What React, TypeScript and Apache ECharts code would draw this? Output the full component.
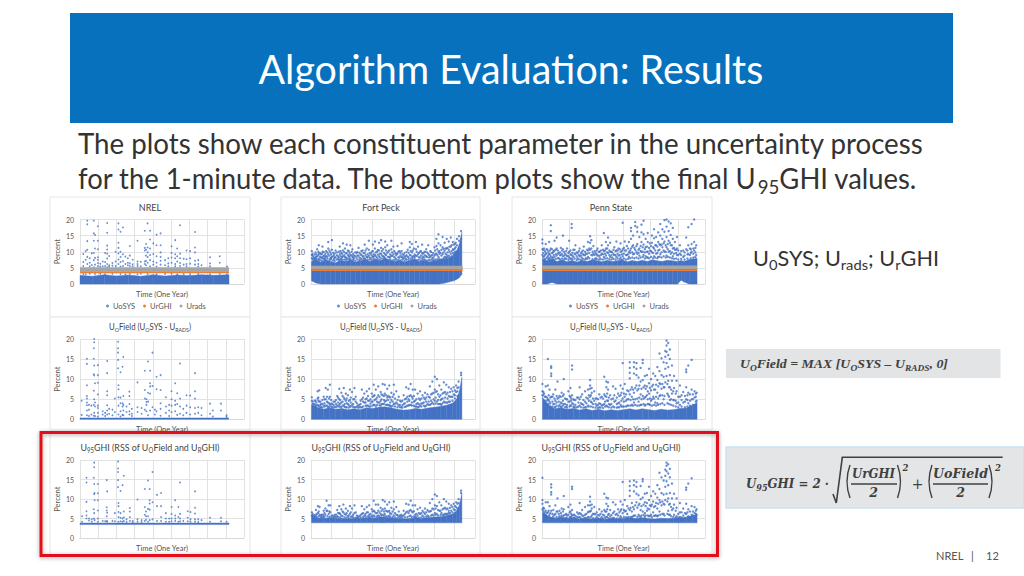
import React, { useEffect, useRef } from "react";
import * as echarts from "echarts";

// ---------- text content ----------
const slideTitle = "Algorithm Evaluation: Results";
const bodyLine1 = "The plots show each constituent parameter in the uncertainty process";
const siteNames = ["NREL", "Fort Peck", "Penn State"];
const legendNames = ["UoSYS", "UrGHI", "Urads"];
const yMax = 20;
const yStep = 5;
const xIntervals = [45, 50, 65];
const xMaxes = [405, 400, 390];

// ---------- reference levels (percent) per site ----------
const urGhiLevel = [3.6, 4.3, 4.3];
const uradsLevel = [4.5, 5.1, 5.2];
const dataEnd = [368, 370, 371];

// ---------- dense-band outlines: [day, low, high] ----------
const nrelSysBand = [[0,0,2.7],[30,0,2.4],[60,0,2.9],[90,0,2.5],[120,0,2.8],[150,0,2.4],[180,0,2.9],[210,0,2.5],[240,0,2.8],[270,0,2.6],[300,0,2.9],[330,0,2.7],[368,0,2.9]];
const fpSysBand = [[1,1,7],[12,0.3,7.6],[24,0,6.8],[36,0,7.5],[48,0,7],[60,0,6.6],[72,0,7.4],[84,0,7],[96,0,7.5],[108,0,6.8],[120,0,7.2],[132,0,7.6],[144,0,7],[156,0,7.6],[168,0,7.2],[180,0,7.8],[192,0,7.3],[204,0,7],[216,0,7.4],[228,0,6.8],[240,0,7.3],[252,0,7.6],[264,0,7],[276,0,7.4],[288,0,6.9],[300,0,7.2],[312,0,7.5],[324,0.2,7.8],[336,0.6,8],[348,1,9],[356,1.5,10.5],[362,2,12.5],[368,3,16]];
const psSysBand = [[1,0,8],[12,0,7.2],[24,0.5,7.8],[36,0,7],[48,0,7.5],[60,0,6.9],[72,0,7.3],[84,0,6.8],[96,0,7.4],[108,0,7],[120,0,7.5],[132,0,7.2],[144,0,6.9],[156,0,7.4],[168,0,7],[180,0,7.2],[192,0,7.5],[204,0,6.9],[216,0,7.3],[228,0,7],[240,0,7.4],[252,0,7],[264,0,7.5],[276,0,7.2],[288,0,7],[300,0,7.4],[312,0,7.2],[324,0,7],[333,1.2,7.3],[340,0.6,7],[352,0,7.6],[371,0,8]];
const nrelUoBand = [[0,0,0.35],[367,0,0.35]];
const fpUoBand = [[1,0,3.6],[15,0,3],[30,0,2.5],[45,0,2.9],[60,0,2.5],[75,0,2.7],[90,0,2.4],[105,0,2.6],[120,0,2.4],[135,0,2.9],[150,0,2.7],[165,0,3],[180,0,3.1],[195,0,2.9],[210,0,2.5],[225,0,2.3],[240,0,2.4],[255,0,2.7],[270,0,2.5],[285,0,2.8],[300,0,3],[315,0,3.2],[330,0,3.5],[345,0,4],[355,0,5],[362,0,7],[368,0,10.5]];
const psUoBand = [[1,0,5.5],[15,0,3.6],[30,0,2.6],[45,0,2.9],[60,0,2.5],[75,0,2.7],[90,0,2.3],[105,0,2.6],[120,0,2.2],[135,0,2.5],[150,0,2.1],[165,0,2.4],[180,0,2.2],[195,0,2.4],[210,0,2.6],[225,0,2.3],[240,0,2.6],[255,0,2.4],[270,0,2.2],[285,0,2.5],[300,0,2.3],[315,0,2.4],[330,0,2.7],[345,0,2.8],[360,0,3.5],[371,0,4.2]];
const nrelGhiBand = [[0,3.45,3.85],[368,3.45,3.85]];
const fpGhiBand = [[1,3.9,5.8],[15,3.9,5.2],[30,3.9,5],[45,3.9,5.2],[60,3.9,5],[75,3.9,5.1],[90,3.9,4.9],[105,3.9,5.1],[120,3.9,5],[135,3.9,5.3],[150,3.9,5.1],[165,3.9,5.4],[180,3.9,5.4],[195,3.9,5.2],[210,3.9,5],[225,3.9,4.9],[240,3.9,5],[255,3.9,5.2],[270,3.9,5],[285,3.9,5.3],[300,3.9,5.4],[315,3.9,5.5],[330,3.9,5.8],[345,3.9,6.2],[355,3.9,7],[362,3.9,8.5],[368,3.9,11.5]];
const psGhiBand = [[1,3.9,6.8],[15,3.9,5.6],[30,3.9,5],[45,3.9,5.3],[60,3.9,5],[75,3.9,5.2],[90,3.9,4.9],[105,3.9,5.1],[120,3.9,4.9],[135,3.9,5.1],[150,3.9,4.8],[165,3.9,5],[180,3.9,4.9],[195,3.9,5],[210,3.9,5.2],[225,3.9,5],[240,3.9,5.2],[255,3.9,5],[270,3.9,4.9],[285,3.9,5.1],[300,3.9,5],[315,3.9,5.1],[330,3.9,5.2],[345,3.9,5.3],[360,3.9,5.8],[371,3.9,6]];

// ---------- scattered points: [day, y, y, ...] ----------
const nrelSysPts = [[8,9.3,6.8,5.6,3.1],[14,10.2,7.5,3],[18,19.6,18.5,13.3,10.6,8.4,6.2],[24,8,6.6,5.5,3.2],[29,9.5,5.9],[34,19.6,15.7,13.4,9.6,7.4,5.2],[37,15.2,11,8.1,6,3.1],[44,17.9,13.4,10.8,8.3,7.5,6.5,5.6],[50,6.3,5.4,3.2],[56,7,5.5],[62,9.6,6.8,5.6,3],[67,18.9,15.9,11.9,10.7,9.4,7.9,6.2,5.2],[72,8.7,5.8,5.4],[80,6.5,5.7,3.2],[88,10,7,5.6],[95,18.8,16.9,12.8,11.2,9.5,7.6,6.2],[100,16.2,10,8.4,6.8,5.4,3.1],[106,17.5,9.2,7.1,5.6],[112,8.5,6.2,3],[118,8,6.6,5.8],[123,11.8,8.8,6.4,5.6,3.2],[130,7.5,6.1,5.5],[142,13.4,7,6.2,5.6,3],[150,6.9,5.5,3.2],[160,16.5,11.2,10.4,7,6.2],[163,12.4,10.6,8.8,7.2,5.8],[167,18.8,11.3,9.8,8.4,6.6,3.1],[173,16.5,13.8,11,9,7.4,5.5],[181,12.6,9.3,7,6],[189,15.3,12,8.6,6.6,5.4,3],[199,15.7,12,9.8,8.4,7.2,6],[210,7.4,5.8,3.1],[218,8,6.4,5.5],[226,11.7,9.6,8.2,6.6,3.2],[235,13.6,9.2,8,6.2,5.5],[240,11,8.6,7,3],[247,18.2,9.4,8,6.5,5.6],[256,7.8,6,3.1],[263,10.4,7.7,6.2,5.5],[272,10.2,8,6.3,3],[284,16.1,11.3,9.8,7.2,6],[292,7.4,6.2,5.4,3.1],[300,5.8],[321,8.3,6.4,5.5,3],[345,8.6,6.6,3.2],[363,5.4,3]];
const nrelUoPts = [[4,4.6,1.1],[17,15.1,13.8,8.5,5.8,5.2,4.2,3.5,2.2,1],[22,3.6,2.4,0.8],[28,3.4,1.2],[34,17.7,15.1,11.2,7.1,3.6,0.9],[35,20,19.2,13.4,10.9,5,1.6],[37,9,4.2,3.2,0.8],[44,13.5,11,9.1,6.2,3.4,2.8,1.6,0.7],[56,2,1.2],[62,1.6,0.8],[67,14.5,11.5,7,6,3.5,2.2,1.2],[72,2.6,1.4],[80,2.4,1],[86,5.2,1.8],[94,19.3,17.7,16.6,14.8,12.7],[95,8.5,7.5,5.5,3.4,1.2],[100,11.7,5.4,4,2,0.7],[105,13.1,4,3.2,1.1],[107,15.5,5.8,3.6,2.2,1],[115,3.2,1.8],[122,6.9,5.8,3.8,2,1.2],[128,2.6,1.4,0.8],[142,9.2,3,1.8],[152,2.8,1.4],[160,12.1,7.3,5.2,2.4],[164,5,4.3,3.6,2],[168,14.4,6.6,4.4,1],[173,12.1,9,8.2,6.4,2.2],[179,16.6,8.3,3],[185,2.4,1.2],[189,10.6,7.5,2],[199,11,7.3,4,2.6,0.9],[212,5.5,3.2,1.6],[220,3.6,2.2,0.8],[226,7,5,3.4,1.8],[235,9,4.6,3.6,2],[240,6.5,3.8,1.1],[247,13.9,5.2,3.2,1.4],[255,2.6,1],[263,6,3.4,1.6],[272,5.9,3,1.2],[284,11.5,7,5.2,2.8,1.4],[292,3,1.6],[300,2.8,1],[321,3.9,1.4],[328,2.2,0.7],[348,3.9,2.2],[362,1,0.6]];
const nrelGhiPts = [[5,5.6,4.2],[16,15.5,14.3,9.3,6.9,5.8,5],[22,5,4.5],[29,4.8,4.2],[34,15.5,7.4,5],[35,19.4,18.2,13.9,11.3,6.4],[36,11.6,9.7,4.6],[44,13.9,11.5,9.7,7.1,5,4.2],[56,4.4],[62,4.3],[66,14.9,7.9,7.1,5.6,4.4],[67,12,6.5,4.2],[80,4.4],[86,6.4,4.3],[94,19.7,17.9,17,14.9,13.1],[95,9,8.2,6.7,5.4,4.2],[100,12.1,6.4,5.2,4.3],[105,13.6,5,4.2],[108,16,6.8,5.3,4.4],[115,4.8,4.1],[123,7.7,6.8,5.4,4.4],[130,4.4,4],[142,9.9,4.8,4.2],[152,4.6,4.1],[160,12.6,8,6,4.4],[163,6.8,5.6,4.7],[168,14.8,7.5,5.6,4.2],[172,12.6,9.7,8.9,7.3,4.6],[179,17,9.2,4.8],[190,11.1,8.2,4.4],[200,11.6,8.2,5.4,4.4],[212,6.4,5,4.2],[220,5,4.2],[226,8,6.2,5,4.3],[235,9.7,5.8,5,4.4],[243,8,5.4,4.2],[247,14.3,6.2,5,4.3],[255,4.4],[266,6.9,5.2,4.3],[273,6.7,4.8,4.2],[284,12,7.8,6.3,4.8,4.2],[292,4.8,4.1],[300,4.6],[321,5.2,4.2],[348,5.2,4.3],[362,4.2]];
const fpSysPts = [[2,10.2,9,8],[6,8.4,7.8],[11,9.8,8.2],[15,10.8,8.6],[19,12,9.4,7.8],[24,9.2,8.2],[28,11.6,10,8.4],[33,8.8,7.8],[37,10.2,8.6],[42,13,11,9.2],[47,9.8,8],[51,13.6,10.6,8.4],[56,9,7.8],[60,10.4,8.2],[66,8.6,7.8],[70,11.6,9.2],[74,9.6,8],[78,12.6,10.4,8.6],[83,11,8.4],[87,12.2,9.6,8],[92,10.2,8.6],[96,12,9,7.8],[101,10.8,8.4],[105,8.8,7.9],[111,9.6,8.2],[116,11.2,8.8],[121,9.2,8],[126,10.4,8.6],[131,12.2,9.6,8],[136,11,8.4],[141,13.4,10.6,8.8],[146,9.4,8],[151,12.2,10.2,8.4],[156,13.2,11,9],[161,10,8.2],[166,12.8,10.4,8.6],[171,13.6,11.2,9.4],[176,10.8,8.6],[181,13.2,11.4,9.2,8],[186,12,9.6],[191,10.4,8.4],[196,13.4,10.8,8.8],[201,11.6,9.2],[206,9.6,8],[211,11.8,9.4],[216,10.2,8.2],[221,12.6,10.2,8.4],[226,9,7.9],[231,8.6,7.8],[236,10.6,8.4],[241,13,11.4,9],[246,12.4,9.8,8.2],[251,11,8.6],[256,13,10.8,8.8],[261,11.6,9.2],[266,10,8.2],[271,12.2,9.6,8],[276,9.8,8.2],[281,10.8,8.6],[286,12,9.4],[291,10.2,8.4],[296,9,8],[301,11.4,8.8],[306,14,11.8,9.4],[311,15.4,12.6,10,8.4],[316,12,9.6],[321,14.6,11.4,9.2],[326,12.8,10.4,8.4],[331,14,11,9,8.2],[336,13.2,10.6,8.8],[341,14.4,11.6,9.4],[346,13,10.8,9.6],[351,12.4,11,9.8],[356,14,12],[361,14.8,13.4],[366,16.4,14]];
const psSysPts = [[1,13.8,12.6,10.8,9],[5,11,8.6],[9,12.4,9.6],[13,10.6,8.4],[17,13,9.4,8],[21,18.2,16.4,11,8.6],[26,9.8,8.2],[30,13.4,10.4,8.4],[35,14.4,11,8.8],[40,9.6,8],[45,11.2,9],[50,15,10.8,8.6],[55,9.4,8],[60,11,8.6],[65,13.4,10,8.2],[70,9,7.9],[71,18.6,17.4],[75,10.6,8.4],[80,12,9.2],[85,9.6,8],[90,11,8.6],[95,10,8.2],[100,11.6,9],[105,9.4,8],[110,13,10.4,8.4],[115,14.8,12.8,10.6],[118,13.6,11,9],[123,11.8,9.4],[128,9.6,8],[133,11,8.8],[138,10,8.2],[143,12,9.4],[148,15.8,10.2,8.4],[153,13,11,8.8],[158,14.4,12,9.6],[163,12.8,10,8.4],[168,9.8,8.2],[173,11.4,9],[178,13.2,10.4,8.4],[183,11,8.8],[188,12.6,10,8.2],[193,19,10.8,8.6],[198,13.2,10.4],[203,11.8,9],[208,13,10,8.4],[213,17.4,16.4,14,11],[218,15,12,9.2],[223,19.2,18,10.6],[228,17.6,16.2,12.4,9.4],[233,14.6,11,8.8],[238,18.4,16,13,10],[243,19.6,15.4,12.2,9],[248,14,11.4,8.6],[253,15.8,13,10,8.2],[258,12.6,10.4],[263,15,12.8,9.8],[268,17,14.2,11,8.6],[273,14.6,12,9.4],[278,16,13,10.4,8.4],[283,18.6,15,12,9.2],[288,17,14,11.4],[293,19.8,16.2,13.2,10],[298,20,17.8,14.6,11.4,8.8],[303,19.4,16.4,13.4,10],[308,18.8,15.2,12,9.4],[313,17.4,14,11,8.6],[318,13,10.6],[323,14.6,11,9],[330,12,9.4],[338,10.4,8.4],[345,14.4,10.8],[350,17.6,12,9.2],[354,11,9],[358,18.6,12.4,10],[364,20,13,10.4],[369,12,9]];
const fpUoPts = [[2,5.5,4.6],[6,3.8,3.2],[11,4.6,3.4],[16,7,5.2,3.6],[20,7.2,4.4,3.2],[25,3.8,3],[31,5.6,3.4],[36,7.8,5,3.4],[41,7.4,4.2,3],[46,8.6,5.6,3.6],[52,3.8,3],[58,4.4,3.2],[64,5.8,3.4],[69,7.6,5,3.6],[74,6.6,4.2,3],[80,7.8,5.4,3.4],[85,6.4,4.6,3],[90,6,3.8],[95,7.4,4.8,3.2],[100,6.8,3.6],[106,7.8,5,3],[112,4,3.2],[118,3.6,3],[124,7.4,5,3],[130,6.4,4.2],[136,7,5.2,3.4],[142,7.6,4.6,3.2],[148,6.4,4.4],[153,8.6,5.8,3.6],[158,7.4,5,3.2],[164,8.2,6,4.2],[170,6.8,4.6,3.4],[175,8.8,6,3.8],[180,8.6,6.4,4.4],[186,7.6,5.4,3.6],[191,8.4,5.6,3.4],[196,6.6,4.8,3.2],[202,8.6,6.2,3.8],[208,7,4.2],[214,5.6,3.4],[220,4.4,3],[226,6,3.8],[232,8,5.2,3.2],[238,7.6,5,3.4],[243,8.8,6,3.6],[248,7.4,5.2],[254,7.4,4.6,3.2],[260,6.4,4,3],[266,7,4.8,3.4],[272,6,4],[278,6.6,5,3.2],[284,6.2,3.8],[290,8.2,5.4,3.6],[296,9.4,6.4,4.2],[302,10.6,7.4,4.6],[307,10,7,4.4],[313,8.4,5.6,3.8],[318,7.4,5,3.6],[324,9.2,6.6,4.4],[330,8.6,6.2,4.2],[336,8,5.8,4.4],[342,7.6,5.6],[348,8,6.2],[354,8.4,6.8],[360,9.4,8],[366,11.6,11]];
const psUoPts = [[1,8.8,7,6],[5,6.4,4.4],[9,8.2,5.6,4],[14,15,8.4,5],[18,7.4,4.4,3],[22,13.2,12.8,11.4,10.8,5.6],[27,6.2,3.8],[32,7.4,4.6,3],[37,9.4,5.2],[42,5.8,3.6],[47,6.6,4,3],[52,10,6.2,3.8],[58,5,3.2],[63,7,4.4],[68,7.8,5.6,3.4],[72,13.4,12.4,6,4],[77,4.8,3.2],[84,5.4,3],[90,8,5,3.4],[96,6.2,3.8],[103,7,4.4,3],[110,7.4,5.2,3.4],[115,9.8,8.4,7.6,5.6],[119,7.8,6.6,4.2],[125,7,4.6],[131,5.2,3.4],[137,6.2,4,3],[143,5.6,3.4],[149,10.6,6.2,3.8],[154,9.4,8,5.6,3.4],[158,9.2,7.4,4.6],[163,6,3.6],[170,8.2,5.2,3.2],[176,7.6,4.6],[182,6.4,4,3],[188,8.4,6,3.6],[193,14,7.6,5.2,3.2],[198,8.8,5.6],[204,7.2,5,3.4],[210,14.2,12.8,11.6,10.2,6.2],[215,8,5.6,3.6],[220,14.2,13,11.4,6.6,4.2],[226,14,12.6,11,8.4],[231,10.4,7.6,4.4],[236,12.8,9.4,6.2,3.6],[241,14.8,14,9.8,5.8],[246,10.8,8.4,5.4,3.4],[251,11,8.2,6],[256,12.6,9,6.4,3.8],[261,10,7.2,4.6],[266,11.4,8.6,5.6],[271,10.8,7.4,4.2],[276,13,9.8,6.6,4],[281,16.4,12,9,5.8],[286,15.2,11,7.6],[291,14.2,10.6,8,5],[295,17,15.6,12.6,9.2],[298,19.6,18.4,16.8,14,10.8],[302,19,16,13,9.6,6],[306,17.4,15,11,8,4.8],[311,13.4,9.6,6.4],[316,10.8,7.8,4.8],[322,9.6,7,4],[330,8.4,5.6,3.6],[338,6.8,4.2],[345,12.4,11.8,8,5],[350,13.4,6.6,4],[358,14.8,7.4,5],[365,7,5.4],[370,6.6,4.6]];
const fpGhiPts = [[2,6.6,5.8],[7,5.6],[12,7.2,5.8],[17,8.2,6.4],[21,8,6],[26,6,5.4],[31,7,5.6],[35,7.6,6],[38,9.6,7],[43,8.4,6.2],[47,8.4,6.6],[52,5.8],[58,6,5.4],[64,7.2,5.6],[69,8.2,6.4],[74,7.4,5.8],[79,8.6,6.6],[85,7.6,6],[90,7,5.6],[95,8.2,6.2],[100,7.6,5.6],[106,8.4,6.4],[112,5.8,5.2],[118,5.6],[124,8.2,6.2],[130,7.4,5.8],[136,8,6.6],[142,8.4,6,5.4],[148,7.4,5.8],[153,9.6,7,5.8],[158,8.6,6.4],[164,8.6,7,5.8],[170,7.8,6.2],[175,9.8,7.4,6],[180,9.4,7.6,6.2],[186,8.6,6.8],[191,9.2,7,5.8],[196,7.8,6.2],[202,9.4,7.4,5.8],[208,8,6],[214,6.8,5.6],[220,6,5.4],[226,7,5.8],[232,8.8,6.6],[238,8.6,6.4],[243,9.6,7.2,5.8],[248,8.4,6.6],[254,8.4,6,5.4],[260,7.4,5.8],[266,7.8,6.2],[272,7,5.8],[278,7.6,6.2],[284,7.2,5.8],[290,9,6.8],[296,10,7.6,6],[302,11.2,8.4,6.4],[307,10.8,8.2,6.2],[313,9.2,7],[318,8.4,6.4],[324,10,7.6,6],[330,9.4,7.4,6.2],[336,8.8,7,6.4],[342,8.4,7],[348,8.8,7.4],[354,9.2,8],[360,10,9],[366,12.2,11.6]];
const psGhiPts = [[1,15.5,9.8,8.8,7.4],[5,7.6,6],[9,9.2,7,5.8],[14,9.2,6.6],[18,8.2,6],[22,13.8,13,11.8,11.2,7],[27,7.2,5.6],[32,8.4,6.2],[37,10.2,6.8],[42,7,5.6],[47,7.6,5.8],[52,10.8,7.4,5.8],[58,6.2,5.2],[63,8,6],[68,8.6,6.8,5.4],[72,13.2,12.6,7.2,5.8],[77,6,5.2],[84,6.6,5.4],[90,9,6.4,5.4],[96,7.2,5.8],[103,8,6,5.2],[110,8.4,6.6,5.4],[115,10.6,9.4,8.4,6.8],[119,8.6,7.6,5.8],[125,8,6.2],[131,6.6,5.4],[137,7.4,5.8],[143,6.8,5.4],[149,11.4,7.2,5.8],[154,10.4,8.8,6.8,5.4],[158,10.2,8.2,6],[163,7.2,5.6],[170,9.2,6.4,5.2],[176,8.6,6],[182,7.4,5.8],[188,9.4,7,5.6],[193,14.4,8.6,6.4],[198,9.8,6.8],[204,8.2,6.2,5.2],[210,14.6,13.4,12.2,10.8,7.2],[215,9,6.8,5.4],[220,14.8,13.6,12,7.4,5.8],[226,14.4,13.2,11.4,9.2],[231,11,8.4,6],[236,13.4,10,7.2,5.4],[241,15.2,14.6,10.4,6.8],[246,11.4,9.2,6.4,5.4],[251,11.6,9,7],[256,13.2,9.8,7.4,5.6],[261,10.8,8.2,6],[266,12,9.4,6.6],[271,11.4,8.2,5.8],[276,13.6,10.4,7.6,5.6],[281,16.8,12.6,9.8,6.8],[286,15.6,11.6,8.4],[291,14.8,11.2,8.8,6.2],[295,17.6,16,13.2,9.8],[298,19.4,18.6,17.2,14.6,11.4],[302,19,16.6,13.6,10.2,7],[306,17.8,15.6,11.6,8.8,6],[311,14,10.2,7.2],[316,11.4,8.6,6],[322,10.2,7.8,5.6],[330,9,6.6,5.4],[338,7.6,5.8],[345,13,12.4,8.8,6.2],[350,14,7.4,5.6],[358,15.4,8.2,6],[365,8,6.4],[370,7.4,6]];

// ---------- further points in the thick part of each cloud ----------
const fpSysMore = [[4,7.6,8.8,9.4],[9,7.4,8,9.1],[13,7.8,9.2,8.4],[18,7.6,8.9,10],[22,7.4,8.4,9.6],[27,7.2,9.3,8],[31,7.8,8.7,9.9],[35,7.5,9.4,8.2],[40,7.9,9.8,8.5],[45,7.4,8.8,10.4],[49,7.7,9.2,8.1],[54,7.3,8.6,9.7],[58,7.2,8.3,9.5],[63,7.6,8.9,9.8],[68,7.4,8.2,10],[72,7.7,8.7,10.2],[76,7.5,9.4,8.4],[81,7.6,8.9,9.9],[85,7.4,9.5,8.2],[90,7.8,9,10.4],[94,7.6,8.4,9.6],[99,7.3,8.9,10],[103,7.5,8.2,9.3],[108,7.2,8.6,9.8],[113,7.6,8.8,9.9],[118,7.4,8.2,9.7],[123,7.7,9,10.2],[128,7.8,8.5,9.6],[133,7.6,8.9,10.4],[138,7.5,9.2,8.3],[143,7.6,9.6,8.2],[148,7.4,8.8,10],[153,7.8,9.2,8.5],[158,7.6,9.8,8.6],[163,7.7,9.1,10.5],[168,7.5,9.4,8.2],[173,7.9,8.8,10.2],[178,7.8,9.6,8.4],[183,7.7,8.9,10.4],[188,7.5,8.4,10],[193,7.6,9.2,8.2],[198,7.3,8.7,9.8],[203,7.4,8.4,10.2],[208,7.6,8.9,9.4],[213,7.5,8.3,10],[218,7.3,8.8,9.6],[223,7.6,9.2,8.2],[228,7.2,8.4,9.6],[233,7.5,8.9,9.9],[238,7.6,8.2,9.7],[243,7.8,8.9,10.2],[248,7.7,8.5,10.4],[253,7.6,9.1,8.2],[258,7.4,8.7,10],[263,7.5,8.3,9.6],[268,7.3,8.8,10.2],[273,7.6,8.5,9.4],[278,7.5,8.9,10],[283,7.3,8.4,9.8],[288,7.4,9,8.2],[293,7.5,8.8,9.9],[298,7.4,8.2,9.6],[303,7.6,9.2,10.4],[308,7.7,8.9,10.8],[313,7.8,9.4,10.2],[318,7.6,8.8,10.6],[323,8,9.8,10.9],[328,8.2,9.4,11],[333,8.4,9.8,11.2],[338,8.3,10,11.6],[343,8.6,10.2,12],[348,9.2,10.6,12.2],[353,10,11.4,12.8]];
const psSysMore = [[3,8.4,9.6,10.6],[7,7.8,9,10.2],[11,8,9.4,10.8],[15,7.6,8.8,10],[19,7.9,9.2,10.4],[24,8.2,9.6,10.8],[28,7.6,9,10.2],[33,7.8,9.2,10.6],[38,8,9.4,10.4],[43,7.7,8.9,9.8],[48,7.9,9.3,10.4],[53,7.6,8.8,10],[58,7.8,9,10.2],[63,7.5,8.7,9.6],[68,7.8,9.2,10.4],[73,7.6,8.8,9.7],[78,7.9,9.4,10.6],[83,7.4,8.6,9.8],[88,7.7,9,10.2],[93,7.5,8.8,9.5],[98,7.8,9.2,10.4],[103,7.6,8.9,10],[108,7.8,9.4,10.6],[113,8,9.6,11],[121,7.7,8.9,10],[126,7.6,9,10.2],[131,7.8,9.2,10.4],[136,7.5,8.8,10],[141,7.7,9,10.4],[146,7.6,9.2,10.6],[151,7.9,9.4,10.4],[156,8,9.8,11],[161,7.7,9,10.4],[166,7.6,8.9,10],[171,7.8,9.2,10.6],[176,7.6,9,10.2],[181,7.9,9.4,10.4],[186,7.7,9,10.8],[191,7.6,9.2,10.2],[196,7.9,9.4,11.2],[201,7.6,9,10.4],[206,7.8,9.2,11],[211,8,9.6,10.4],[216,8.2,9.8,11.6],[221,8,9.4,11.2],[226,8.2,10,11.8],[231,7.9,9.6,10.6],[236,8.2,10.2,11.8],[241,8.4,10,11.4],[246,7.9,9.8,10.8],[251,8.2,10,11.6],[256,8,9.4,11.2],[261,8.4,10.2,11.8],[266,8,9.6,11.4],[271,8.2,10.4,12],[276,8,9.6,11.6],[281,8.4,10.6,12.4],[286,8.2,9.8,12.2],[291,8.6,10.4,12.6],[296,8.2,10,12],[301,8.4,10.8,12.4],[306,8.2,10.2,12.8],[311,8,9.8,12],[316,7.8,9.4,11.2],[321,7.9,9.6,10.6],[326,7.6,9,10.4],[333,7.8,9,10.2],[341,7.6,8.8,9.8],[348,7.9,9.2,10.4],[356,8,9.6,10.8],[362,8.2,9.4,11],[367,8.4,9.8,11.2]];
const fpUoMore = [[4,3.8,4.4],[9,3.2,3.8,4.6],[13,3.4,4.2],[18,3.4,4.6,5.4],[23,3,3.6,4.4],[28,2.9,3.8,4.8],[33,3.2,4,5],[39,3.4,4.4,5.6],[44,3.1,4,5.2],[49,3.2,3.9,4.8],[55,2.9,3.6,4.4],[61,3,3.8,4.8],[66,3.2,4.2,5.4],[71,3.1,3.9,4.8],[77,3.4,4.4,5.8],[82,3.1,3.8,5],[87,3,4,5.2],[92,2.9,3.6,4.6],[97,3.2,4.2,5.4],[103,3.1,3.8,5],[109,3,4.4,5.6],[115,2.9,3.5],[121,3,3.8,4.6],[127,3.2,4.4,5.4],[133,3.4,4.2,5],[139,3.4,4.6,5.8],[145,3.2,3.9,5],[150,3.4,4.4,5.6],[155,3.6,4.8,6],[161,3.6,4.4,5.4],[167,3.5,4.2,5.6],[172,3.8,5,6.2],[178,3.8,4.8,5.8],[183,3.6,4.6,6],[188,3.6,4.8,5.8],[193,3.4,4.2,5.4],[199,3.4,4.4,5.6],[205,3.2,3.9,5.2],[211,3,3.8,4.8],[217,3,3.6,4.6],[223,2.9,3.5,4.6],[229,3.1,4,5],[235,3.4,4.4,5.6],[240,3.6,4.6,5.8],[246,3.4,4.2,5.6],[251,3.4,4.4,5.8],[257,3.2,3.8,5],[263,3.1,3.8,5.2],[269,3.2,3.9,5.2],[275,3.4,4.2,5.4],[281,3.4,4.4,5.4],[287,3.6,4.4,5.6],[293,3.8,4.6,6.2],[299,3.8,5,6.6],[304,3.9,5.4,6.8],[310,3.8,4.8,6.2],[316,3.8,4.8,6],[321,4,5.2,6.4],[327,4.2,5.4,6.8],[333,4.2,5.2,6.6],[339,4.4,5.6,6.8],[345,4.6,5.6,7],[351,5.2,6,7.2],[357,5.8,7,7.8]];
const psUoMore = [[3,6,6.8],[7,4.6,5.6],[12,3.8,4.6,5.4],[16,3.8,4.8,6],[20,3.2,4,5.4],[25,3.2,4.4,5.6],[30,3,3.8,5.2],[35,3.4,4.2,5.8],[40,3.2,4.4,5.4],[45,3.2,4.2,5.6],[50,3.4,4.6,5.8],[55,3,3.8,5.2],[60,2.9,3.6,5],[66,3.2,4.4,5.8],[70,3.4,4.6,5.2],[75,3,3.8,5],[80,2.9,3.6,4.8],[87,3.2,4.2,5.4],[93,3,4,5.6],[99,2.9,3.6,4.8],[106,3,4,5.4],[112,3.2,4.6,6],[117,3.2,4.4,6],[122,3,3.8,5.2],[128,2.9,3.8,5.2],[134,2.8,3.6,5],[140,2.9,3.8,5.4],[146,2.8,3.6,5.2],[151,3.2,4.4,5.8],[156,3.2,4.6,6.4],[160,3,3.8,5.4],[166,2.9,3.8,5],[173,3,4.4,6],[179,2.9,3.8,5.4],[185,3,4.2,5.8],[190,3.2,4.6,6.6],[196,3.2,4.4,6.4],[201,3.2,4.6,6.2],[207,3.4,5,7],[212,3.4,4.8,7.4],[218,3.4,5,7.4],[223,3.6,5,7.8],[228,3.4,5.2,7.2],[233,3.4,5.4,8.4],[238,3.6,5,7.6],[243,3.8,5.2,8],[248,3.6,5.6,7.6],[253,3.8,5,7],[258,3.6,5.2,7.8],[263,3.4,5,8.2],[268,3.6,5.2,7.4],[273,3.4,5.6,8.6],[278,3.6,5.2,8.2],[283,3.8,6,8.8],[288,4,6,8.8],[293,3.6,5.8,8],[300,4,6.4,8.8],[304,3.8,5.6,8],[309,3.6,5,7.4],[314,3.4,4.8,7],[320,3.2,4.6,6.4],[326,3,4.2,5.6],[334,3.2,4.8,6],[342,3,4.4,5.8],[348,3.2,4.8,6],[354,3.4,4.6,6.2],[361,3.6,5,6.2],[368,4.4,5.6,6.4]];
const fpGhiMore = [[4,5.8,6.2],[9,5.4,5.9],[14,5.4,6.2],[19,5.6,6.8],[24,5.3,5.8],[29,5.2,6],[33,5.4,6.4],[40,5.6,7],[45,5.4,6.8],[50,5.2,5.7],[55,5.2,5.6],[61,5.3,6],[66,5.4,6.4],[71,5.3,6.2],[77,5.6,6.8],[82,5.3,6.2],[87,5.2,6.4],[92,5.1,5.8],[97,5.4,6.6],[103,5.3,6],[109,5.2,6.6],[115,5.1,5.5],[121,5.3,5.9],[127,5.4,6.4],[133,5.6,6.2],[139,5.6,6.6],[145,5.3,6.2],[150,5.4,6.8],[155,5.6,6.8],[161,5.6,6.4],[167,5.6,6.6],[172,5.8,7],[178,5.7,6.8],[183,5.6,7],[188,5.6,6.8],[193,5.4,6.4],[199,5.4,6.8],[205,5.3,6.4],[211,5.2,5.9],[217,5.2,5.8],[223,5.1,5.7],[229,5.3,6.2],[235,5.4,6.8],[240,5.6,7],[246,5.4,6.8],[251,5.5,6.9],[257,5.3,6.2],[263,5.2,6.4],[269,5.3,6.4],[275,5.4,6.6],[281,5.5,6.6],[287,5.6,6.8],[293,5.8,7],[299,5.8,7.4],[304,6,7.6],[310,5.8,7.2],[316,5.9,7],[321,6,7.4],[327,6.2,7.8],[333,6.2,7.6],[339,6.4,7.8],[345,6.6,8],[351,7.2,8.2],[357,7.6,8.8]];
const psGhiMore = [[3,7,7.8],[7,5.8,6.6],[12,5.4,6.4],[16,5.6,7],[20,5.2,6.4],[25,5.2,6.2],[30,5.1,6],[35,5.4,6.8],[40,5.2,6.2],[45,5.3,6.4],[50,5.4,6.8],[55,5.1,6],[60,5,5.8],[66,5.3,6.6],[70,5.4,6.2],[75,5.1,5.9],[80,5,5.7],[87,5.3,6.2],[93,5.1,6.2],[99,5,5.7],[106,5.1,6.2],[112,5.3,6.8],[117,5.4,7],[122,5.1,6.2],[128,5,6.1],[134,5,5.9],[140,5,6.2],[146,5,6],[151,5.2,6.8],[156,5.4,7.4],[160,5.1,6.2],[166,5,5.9],[173,5.1,6.8],[179,5,6.2],[185,5.1,6.6],[190,5.2,7.4],[196,5.4,7.2],[201,5.3,7],[207,5.4,7.6],[212,5.4,7.8],[218,5.6,8],[223,5.8,8.4],[228,5.4,7.8],[233,5.6,8.8],[238,5.8,8.2],[243,5.9,8.6],[248,5.8,8.2],[253,5.8,7.6],[258,5.7,8.4],[263,5.4,8.6],[268,5.7,8],[273,5.8,9],[278,5.8,8.8],[283,6,9.2],[288,6.2,9.4],[293,5.8,8.6],[300,6.2,9.4],[304,6,8.6],[309,5.6,8],[314,5.4,7.6],[320,5.3,7],[326,5.2,6.2],[334,5.3,6.6],[342,5.2,6.4],[348,5.3,6.6],[354,5.4,6.8],[361,5.8,6.8],[368,6.2,7]];

const sysBands = [nrelSysBand, fpSysBand, psSysBand];
const sysPts = [nrelSysPts, [...fpSysPts, ...fpSysMore], [...psSysPts, ...psSysMore]];
const uoBands = [nrelUoBand, fpUoBand, psUoBand];
const uoPts = [nrelUoPts, [...fpUoPts, ...fpUoMore], [...psUoPts, ...psUoMore]];
const ghiBands = [nrelGhiBand, fpGhiBand, psGhiBand];
const ghiPts = [nrelGhiPts, [...fpGhiPts, ...fpGhiMore], [...psGhiPts, ...psGhiMore]];

// ---------- layout ----------
const BLUE = "#4472C4";
const ORANGE = "#ED7D31";
const GREY = "#A5A5A5";
const LATO = "Lato, 'Noto Sans', sans-serif";
const SERIF = "'Liberation Serif', serif";
const MATH = "'DejaVu Serif', serif";
const plotX = [[80, 164], [311, 164], [542, 163]];
const plotY = [[219.5, 64.5], [339, 80.3], [460.3, 77.7]];
const panelX = [[50, 250], [281, 480], [512, 712]];
const panelY = [[197, 317], [317, 430], [432, 555]];
const titleCx = [150, 381, 611];
const legendLeft = [106, 337, 569];
const dotSize = [1.8, 2.4, 2.4];

type Part = { t: string; sub?: boolean };
type RunOpts = { fs: number; fill: string; family?: string; weight?: string; italic?: boolean; width?: number; center?: boolean; z?: number };

const ctx = document.createElement("canvas").getContext("2d")!;
function runs(x: number, y: number, parts: Part[], o: RunOpts) {
  const family = o.family || LATO;
  const fontOf = (s: number) => `${o.italic ? "italic " : ""}${o.weight || "normal"} ${s}px ${family}`;
  const subFs = o.fs * 0.68;
  const widths = parts.map((p) => {
    ctx.font = fontOf(p.sub ? subFs : o.fs);
    return ctx.measureText(p.t).width;
  });
  const total = widths.reduce((a, b) => a + b, 0);
  const sx = o.width ? o.width / total : 1;
  let cur = o.center ? x - (total * sx) / 2 : x;
  return parts.map((p, i) => {
    const fs = p.sub ? subFs : o.fs;
    const el = {
      type: "text",
      x: cur,
      y: p.sub ? y + 0.35 * (o.fs - subFs) + 0.2 * o.fs : y,
      scaleX: sx,
      z: o.z ?? 5,
      silent: true,
      style: {
        text: p.t,
        fontSize: fs,
        fontFamily: family,
        fontWeight: o.weight || "normal",
        fontStyle: o.italic ? "italic" : "normal",
        fill: o.fill,
        textAlign: "left",
        textVerticalAlign: "middle",
      },
    };
    cur += widths[i] * sx;
    return el;
  });
}
const rect = (x: number, y: number, w: number, h: number, style: any, z = 1) => ({ type: "rect", z, silent: true, shape: { x, y, width: w, height: h }, style });
const line = (x1: number, y1: number, x2: number, y2: number, lw = 1.5) => ({ type: "line", z: 6, silent: true, shape: { x1, y1, x2, y2 }, style: { stroke: "#404040", lineWidth: lw } });
const paren = (x1: number, x2: number, y1: number, y2: number) => ({ type: "bezierCurve", z: 6, silent: true, shape: { x1, y1, x2: x1, y2, cpx1: x2, cpy1: (y1 + y2) / 2 }, style: { stroke: "#404040", lineWidth: 1.4, fill: "none" } });

function buildGraphic() {
  const els: any[] = [];
  els.push(rect(70, 13, 883, 110, { fill: "#0771BD" }));
  els.push(...runs(511, 68.5, [{ t: slideTitle }], { fs: 40, fill: "#ffffff", center: true, width: 505 }));
  els.push(...runs(78, 143, [{ t: bodyLine1 }], { fs: 28, fill: "#333333", width: 847 }));
  els.push(...runs(78, 178, [{ t: "for the 1-minute data. The bottom plots show the final U" }, { t: "95", sub: true }, { t: "GHI values." }], { fs: 28, fill: "#333333", width: 839 }));
  panelX.forEach(([a, b]) => panelY.forEach(([c, d]) => els.push(rect(a, c, b - a, d - c, { fill: "#fff", stroke: "#e6e6e6", lineWidth: 1 }, 0))));
  siteNames.forEach((n, i) => els.push(...runs(titleCx[i], 207.5, [{ t: n }], { fs: 9, fill: "#444", center: true })));
  titleCx.forEach((cx) => {
    els.push(...runs(cx, 327, [{ t: "U" }, { t: "O", sub: true }, { t: "Field (U" }, { t: "O", sub: true }, { t: "SYS - U" }, { t: "RADS", sub: true }, { t: ")" }], { fs: 9, fill: "#444", center: true, width: 82 }));
    els.push(...runs(cx, 447, [{ t: "U" }, { t: "95", sub: true }, { t: "GHI (RSS of U" }, { t: "O", sub: true }, { t: "Field and U" }, { t: "R", sub: true }, { t: "GHI)" }], { fs: 10, fill: "#444", center: true, width: 139 }));
  });
  els.push(...runs(753, 258.5, [{ t: "U" }, { t: "0", sub: true }, { t: "SYS; U" }, { t: "rads", sub: true }, { t: "; U" }, { t: "r", sub: true }, { t: "GHI" }], { fs: 21, fill: "#333", width: 186 }));
  els.push(rect(726, 349, 274.5, 29, { fill: "#e3e4e5" }));
  const serifOpts = { fs: 13.5, fill: "#404040", family: SERIF, weight: "bold", italic: true, width: 208 };
  els.push(...runs(740, 363.5, [{ t: "U" }, { t: "O", sub: true }, { t: "Field = MAX [U" }, { t: "O", sub: true }, { t: "SYS – U" }, { t: "RADS", sub: true }, { t: ", 0]" }], serifOpts));
  els.push(rect(726, 447, 298, 61, { fill: "#e4e5e6", stroke: "#c6e4f5", lineWidth: 1.5 }));
  const m = { fs: 12.5, fill: "#404040", family: MATH, weight: "bold", italic: true };
  els.push(...runs(746, 484, [{ t: "U" }, { t: "95", sub: true }, { t: "GHI = 2 ·" }], { ...m, width: 83 }));
  els.push({ type: "polyline", z: 6, silent: true, shape: { points: [[833, 494], [836.3, 503], [842.3, 457.3], [1002.7, 457.3]] }, style: { stroke: "#404040", lineWidth: 1.6, fill: "none" } });
  els.push(paren(850, 844, 465, 498), paren(897.5, 903.5, 465, 498), paren(932, 926, 465, 498), paren(989, 995, 465, 498));
  els.push(...runs(873.5, 473.5, [{ t: "UrGHI" }], { ...m, center: true, width: 43 }));
  els.push(...runs(873.5, 492.5, [{ t: "2" }], { ...m, center: true }));
  els.push(line(851, 484, 897, 484));
  els.push(...runs(960.5, 473.5, [{ t: "UoField" }], { ...m, center: true, width: 55 }));
  els.push(...runs(960.5, 492.5, [{ t: "2" }], { ...m, center: true }));
  els.push(line(933, 484, 988, 484));
  els.push(...runs(905.5, 468, [{ t: "2" }], { ...m, fs: 8.5, center: true }));
  els.push(...runs(998, 468, [{ t: "2" }], { ...m, fs: 8.5, center: true }));
  els.push(...runs(917.5, 484, [{ t: "+" }], { ...m, weight: "normal", italic: false, center: true, fs: 14 }));
  els.push(...runs(936, 555, [{ t: "NREL" }], { fs: 11, fill: "#555" }));
  els.push(...runs(971, 555, [{ t: "|" }], { fs: 11, fill: "#555" }));
  els.push(...runs(986, 555, [{ t: "12" }], { fs: 11, fill: "#555" }));
  els.push(rect(41, 432.5, 676.5, 123, { fill: "none", stroke: "#E3101B", lineWidth: 3, shadowColor: "rgba(0,0,0,0.35)", shadowBlur: 4, shadowOffsetY: 1 }, 8));
  return els;
}

const flat = (cols: number[][]) => cols.flatMap(([x, ...ys]) => ys.map((y) => [x, y]));

function bandSeries(band: number[][], gi: number, name: string) {
  return {
    type: "custom", name, xAxisIndex: gi, yAxisIndex: gi, silent: true, z: 2,
    itemStyle: { color: BLUE },
    encode: { x: 0, y: [1, 2] },
    data: band,
    renderItem: (params: any, api: any) => {
      const i = params.dataIndex;
      if (i >= band.length - 1) return null;
      const a = band[i];
      const b = band[i + 1];
      const points = [api.coord([a[0], a[1]]), api.coord([b[0], b[1]]), api.coord([b[0], b[2]]), api.coord([a[0], a[2]])];
      return { type: "polygon", shape: { points }, style: { fill: BLUE, stroke: BLUE, lineWidth: 0.4 } };
    },
  };
}
const scatter = (pts: number[][], gi: number, name: string, size: number) => ({ type: "scatter", name, xAxisIndex: gi, yAxisIndex: gi, symbolSize: size, itemStyle: { color: BLUE }, silent: true, data: flat(pts), z: 3 });

function buildOption() {
  const grid: any[] = [], xAxis: any[] = [], yAxis: any[] = [], series: any[] = [], legend: any[] = [];
  const rowData = [[sysBands, sysPts, "UoSYS"], [uoBands, uoPts, "UoField"], [ghiBands, ghiPts, "U95GHI"]] as const;
  for (let r = 0; r < 3; r++) {
    for (let c = 0; c < 3; c++) {
      const gi = grid.length;
      grid.push({ left: plotX[c][0], width: plotX[c][1], top: plotY[r][0], height: plotY[r][1], show: false });
      xAxis.push({
        gridIndex: gi, type: "value", min: 0, max: xMaxes[c], interval: xIntervals[c],
        name: "Time (One Year)", nameLocation: "middle", nameGap: 6,
        nameTextStyle: { fontSize: 7.5, color: "#555", fontFamily: LATO },
        axisLabel: { show: false }, axisTick: { show: false },
        axisLine: { lineStyle: { color: "#d9d9d9", width: 1 } },
        splitLine: { show: true, lineStyle: { color: "#e2e2e2", width: 1 } },
      });
      yAxis.push({
        gridIndex: gi, type: "value", min: 0, max: yMax, interval: yStep,
        name: "Percent", nameLocation: "middle", nameRotate: 90, nameGap: 11,
        nameTextStyle: { fontSize: 7.5, color: "#555", fontFamily: LATO },
        axisLabel: { fontSize: 7, color: "#595959", fontFamily: LATO, margin: 6 }, axisTick: { show: false },
        axisLine: { show: false },
        splitLine: { show: true, lineStyle: { color: "#e2e2e2", width: 1 } },
      });
      const [bands, pts, name] = rowData[r];
      series.push(scatter(pts[c], gi, name, dotSize[c]), bandSeries(bands[c], gi, name));
      if (r === 0) {
        series.push({ type: "line", name: "Urads", xAxisIndex: gi, yAxisIndex: gi, symbol: "none", silent: true, z: 4, itemStyle: { color: GREY }, lineStyle: { color: GREY, width: c === 0 ? 4.5 : 3.5 }, data: [[0, uradsLevel[c]], [dataEnd[c], uradsLevel[c]]] });
        series.push({ type: "line", name: "UrGHI", xAxisIndex: gi, yAxisIndex: gi, symbol: "none", silent: true, z: 4, itemStyle: { color: ORANGE }, lineStyle: { color: ORANGE, width: 1.8 }, data: [[0, urGhiLevel[c]], [dataEnd[c], urGhiLevel[c]]] });
        legend.push({ left: legendLeft[c], top: 302, data: legendNames, icon: "circle", itemWidth: 3, itemHeight: 3, itemGap: 8, padding: 0, selectedMode: false, textStyle: { fontSize: 7.5, color: "#555", fontFamily: LATO, padding: [0, 0, 0, -1] } });
      }
    }
  }
  return { animation: false, backgroundColor: "#ffffff", grid, xAxis, yAxis, series, legend, graphic: { elements: buildGraphic() } };
}

export default function App() {
  const ref = useRef<HTMLDivElement>(null);
  useEffect(() => {
    const chart = echarts.init(ref.current!, undefined, { renderer: "svg" });
    chart.setOption(buildOption() as any);
    return () => chart.dispose();
  }, []);
  return <div ref={ref} style={{ position: "fixed", left: 0, top: 0, width: 1024, height: 576 }} />;
}
